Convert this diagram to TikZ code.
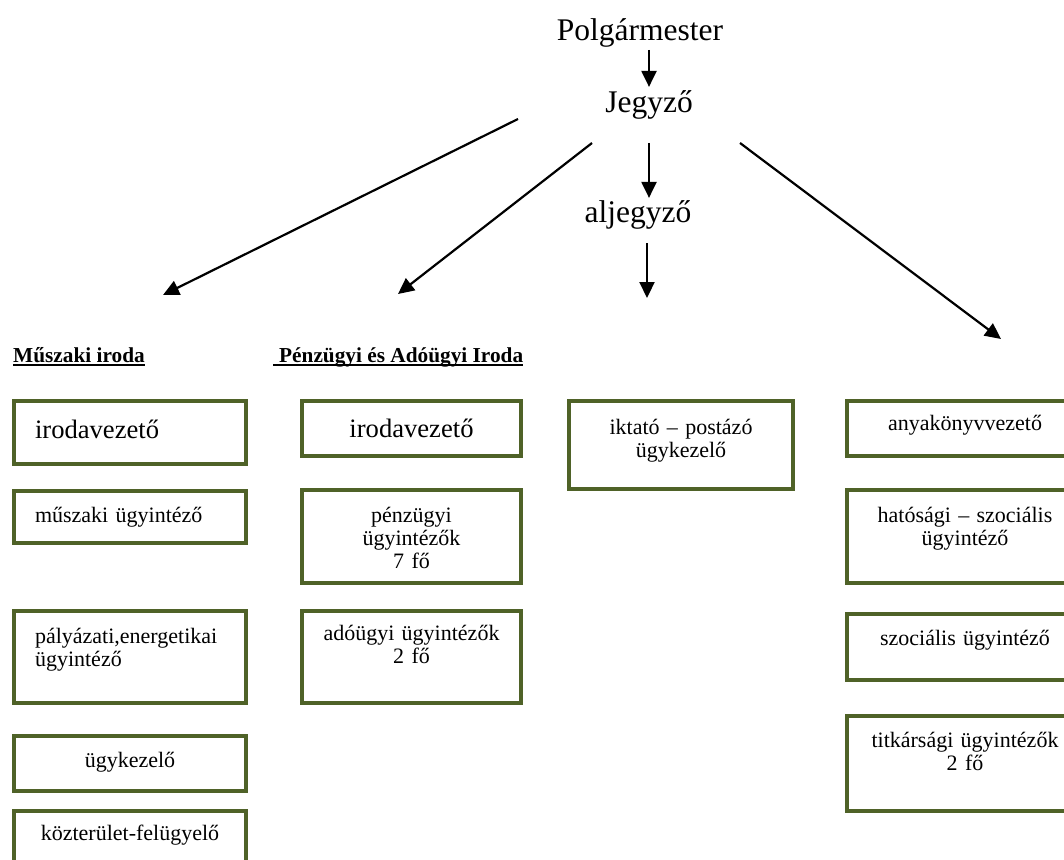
\documentclass[tikz,border=0pt]{standalone}
\usepackage{fontspec}
\setmainfont{Liberation Serif}
\usetikzlibrary{arrows.meta}
\definecolor{boxgreen}{RGB}{79,98,40}
\tikzset{
  orgbox/.style={draw=boxgreen, line width=4pt, inner sep=0pt, anchor=north west,
    align=center, font=\fontsize{22}{23.3}\selectfont},
  leftbox/.style={orgbox, align=left, inner xsep=21pt},
  bigtext/.style={font=\fontsize{26.6}{30}\selectfont},
  chief/.style={inner sep=0pt, anchor=base, font=\fontsize{31.5}{36}\selectfont},
  hdr/.style={inner sep=0pt, anchor=base west, font=\fontsize{21.3}{24}\selectfont\bfseries},
  arr/.style={-{Triangle[length=16pt,width=15pt]}, line width=2.2pt}
}

\begin{document}
\begin{tikzpicture}[x=1pt,y=-1pt]
\useasboundingbox (0,0) rectangle (1064,859);
\clip (0,0) rectangle (1064,859);

% top of the chart
\node [chief] (polg) at (640,41) {Polgármester};
\node [chief] (jegyzo) at (649,112) {Jegyző};
\node [chief] (aljegyzo) at (638,222) {aljegyző};

\coordinate (muszfrom) at (518,119);
\coordinate (muszto) at (163,295);
\coordinate (penzfrom) at (592,143);
\coordinate (penzto) at (398,294);
\coordinate (iktto) at (647,298);
\coordinate (anyafrom) at (740,143);
\coordinate (anyato) at (1001,339);

\draw[arr, shorten <=2pt, shorten >=3pt] (polg.south -| jegyzo.north) -- (jegyzo.north);
\draw[arr, shorten <=24pt, shorten >=2pt] (jegyzo.south) -- (jegyzo.south |- aljegyzo.north);
\draw[arr, shorten <=14pt] (aljegyzo.south -| iktto) -- (iktto);
\draw[arr] (muszfrom) -- (muszto);
\draw[arr] (penzfrom) -- (penzto);
\draw[arr] (anyafrom) -- (anyato);


% Muszaki iroda
\node [hdr] (muszhdr) at (13,362) {Műszaki iroda};
\draw[line width=2pt] ([yshift=-3pt]muszhdr.base west) -- ([yshift=-3pt]muszhdr.base east);

\node [leftbox, bigtext, text width=190pt, text height=37pt, text depth=26pt] (musz1) at (12,399) {irodavezető};
\node [leftbox, text width=190pt, text height=31pt, text depth=21pt] (musz2) at (12,489) {műszaki ügyintéző};
\node [leftbox, text width=190pt, text height=32pt, text depth=60pt] (musz3) at (12,609) {pályázati,energetikai\\ügyintéző};
\node [orgbox, text width=232pt, text height=31pt, text depth=24pt] (musz4) at (12,734) {ügykezelő};
\node [orgbox, text width=232pt, text height=29pt, text depth=50pt] (musz5) at (12,809) {közterület-felügyelő};


% Penzugyi es Adougyi Iroda
\node [hdr] (penzhdr) at (279,362) {Pénzügyi és Adóügyi Iroda};
\draw[line width=2pt] ([xshift=-6pt,yshift=-3pt]penzhdr.base west) -- ([yshift=-3pt]penzhdr.base east);

\node [orgbox, bigtext, text width=219pt, text height=36pt, text depth=19pt] (penz1) at (300,399) {irodavezető};
\node [orgbox, text width=219pt, text height=32pt, text depth=61pt] (penz2) at (300,488) {pénzügyi\\ügyintézők\\7 fő};
\node [orgbox, text width=219pt, text height=29pt, text depth=63pt] (penz3) at (300,609) {adóügyi ügyintézők\\2 fő};


\node [orgbox, text width=224pt, text height=33pt, text depth=55pt] (ikt) at (567,399) {iktató – postázó\\ügykezelő};


% right column
\node [orgbox, text width=236pt, text height=29pt, text depth=26pt] (anya1) at (845,399) {anyakönyvvezető};
\node [orgbox, text width=236pt, text height=32pt, text depth=61pt] (anya2) at (845,488) {hatósági – szociális\\ügyintéző};
\node [orgbox, text width=236pt, text height=31pt, text depth=35pt] (anya3) at (845,612) {szociális ügyintéző};
\node [orgbox, text width=236pt, text height=31pt, text depth=64pt] (anya4) at (845,714) {titkársági ügyintézők\\2 fő};

\end{tikzpicture}
\end{document}
